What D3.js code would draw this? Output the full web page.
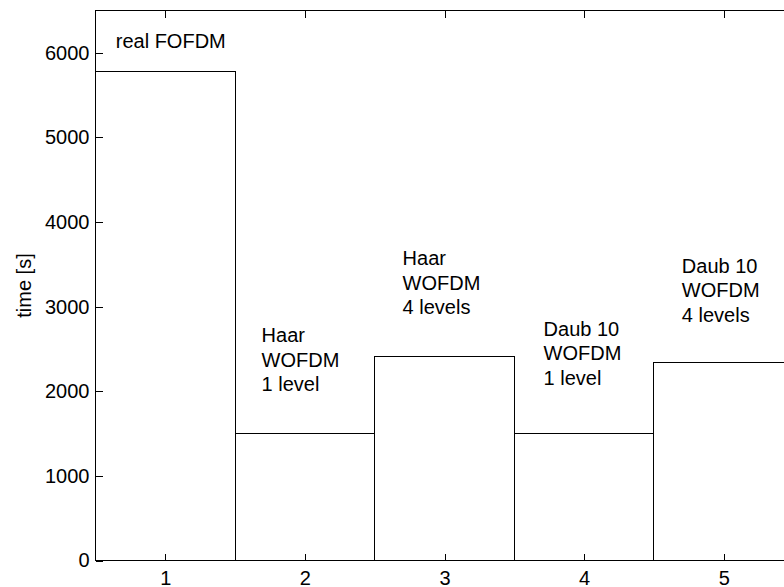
<!DOCTYPE html>
<html>
<head>
<meta charset="utf-8">
<script src="https://cdn.jsdelivr.net/npm/d3@7"></script>
<style>
  body { margin: 0; background: #fff; }
  svg { display: block; }
  text { font-family: "Liberation Sans", Arial, sans-serif; fill: #000; }
</style>
</head>
<body>
<svg width="784" height="587"></svg>
<script>
// data
const runs = [1, 2, 3, 4, 5]
const times = [5775, 1500, 2410, 1500, 2345]
const yTicks = [0, 1000, 2000, 3000, 4000, 5000, 6000]

// annotation text, and where it sits in data units (block centre)
const labelLines = [
  ['real FOFDM'],
  ['Haar', 'WOFDM', '1 level'],
  ['Haar', 'WOFDM', '4 levels'],
  ['Daub 10', 'WOFDM', '1 level'],
  ['Daub 10', 'WOFDM', '4 levels']
]
const labelX = [0.645, 1.69, 2.70, 3.71, 4.70]
const labelY = [6145, 2373, 3280, 2452, 3193]

const svg = d3.select('svg')
const fontSize = 20
const lineGap = 24.5

// axes box, right side runs past the picture edge like the original
const box = {left: 95.5, right: 793.5, top: 10.5, bottom: 560.5}

const xScale = d3.scaleLinear().domain([0.5, 5.5]).range([box.left, box.right])
const yScale = d3.scaleLinear().domain([0, 6500]).range([box.bottom, box.top])

// bars (width 1, touching)
svg.append('g')
  .selectAll('rect')
  .data(runs)
  .enter()
  .append('rect')
  .attr('x', d => xScale(d - 0.5))
  .attr('y', (d, i) => yScale(times[i]))
  .attr('width', d => xScale(d + 0.5) - xScale(d - 0.5))
  .attr('height', (d, i) => yScale(0) - yScale(times[i]))
  .attr('fill', '#fff')
  .attr('stroke', '#000')
  .attr('stroke-width', 1)
  .attr('shape-rendering', 'crispEdges')

// ticks point inward, matlab style
const fmt = d3.format('d')
const yAxis = d3.axisLeft(yScale).tickValues(yTicks).tickFormat(fmt).tickSizeInner(-7).tickSizeOuter(0).tickPadding(6)
const yAxisR = d3.axisRight(yScale).tickValues(yTicks).tickSizeInner(-7).tickSizeOuter(0).tickFormat('')
const xAxis = d3.axisBottom(xScale).tickValues(runs).tickFormat(fmt).tickSizeInner(-7).tickSizeOuter(0).tickPadding(10)
const xAxisT = d3.axisTop(xScale).tickValues(runs).tickSizeInner(-7).tickSizeOuter(0).tickFormat('')

function styleAxis(g) {
  g.select('.domain').remove()
  g.selectAll('line').attr('stroke', '#000').attr('shape-rendering', 'crispEdges')
  g.selectAll('text')
    .style('font-size', fontSize + 'px')
    .style('font-family', '"Liberation Sans", Arial, sans-serif')
    .attr('fill', '#000')
}

svg.append('g').attr('transform', 'translate(' + box.left + ',0)').call(yAxis).call(styleAxis)
svg.append('g').attr('transform', 'translate(' + box.right + ',0)').call(yAxisR).call(styleAxis)
svg.append('g').attr('transform', 'translate(0,' + box.bottom + ')').call(xAxis).call(styleAxis)
svg.append('g').attr('transform', 'translate(0,' + box.top + ')').call(xAxisT).call(styleAxis)

// frame
svg.append('rect')
  .attr('x', box.left)
  .attr('y', box.top)
  .attr('width', box.right - box.left)
  .attr('height', box.bottom - box.top)
  .attr('fill', 'none')
  .attr('stroke', '#000')
  .attr('shape-rendering', 'crispEdges')

// y label
svg.append('text')
  .attr('transform', 'translate(30.5,' + ((box.top + box.bottom) / 2) + ') rotate(-90)')
  .attr('text-anchor', 'middle')
  .style('font-size', fontSize + 'px')
  .text('time [s]')

// bar annotations
labelLines.forEach((lines, i) => {
  let cy = yScale(labelY[i])
  let t = svg.append('text')
    .attr('x', xScale(labelX[i]))
    .style('font-size', fontSize + 'px')
  lines.forEach((ln, j) => {
    t.append('tspan')
      .attr('x', xScale(labelX[i]))
      .attr('y', cy + (j - (lines.length - 1) / 2) * lineGap + 7)
      .text(ln)
  })
})
</script>
</body>
</html>
